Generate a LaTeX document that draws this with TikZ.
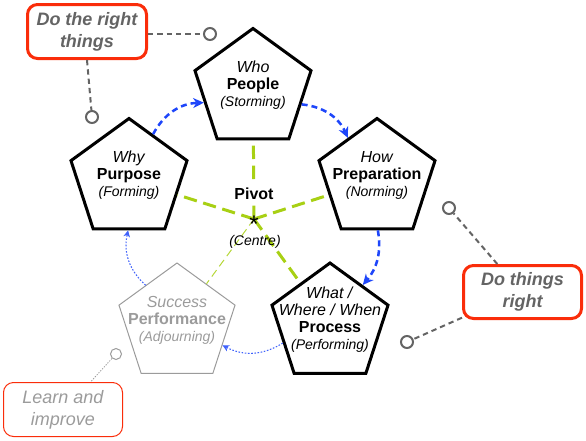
\documentclass[tikz,border=0pt]{standalone}
\usepackage{fontspec}
\setmainfont{Liberation Sans}
\usetikzlibrary{shapes.geometric,arrows.meta}

\definecolor{flowblue}{RGB}{30,70,250}
\definecolor{spokegreen}{RGB}{168,208,20}
\definecolor{calloutred}{RGB}{250,45,10}
\definecolor{notegray}{RGB}{100,100,100}
\definecolor{fadedgray}{RGB}{155,155,155}

\newcommand{\stagesub}[1]{{\fontsize{10.5}{12.75}\selectfont\itshape #1}}

\begin{document}
\begin{tikzpicture}[x=0.75pt, y=-0.75pt,
    stage/.style={draw=black, line width=2.25pt, regular polygon,
      regular polygon sides=5, minimum size=91.5pt, inner sep=0pt},
    faded/.style={draw=fadedgray, line width=0.75pt},
    stagetext/.style={align=center, inner sep=0pt,
      font=\fontsize{12}{12.75}\selectfont},
    spoke/.style={draw=spokegreen, line width=2.25pt,
      dash pattern=on 10pt off 5pt},
    flow/.style={draw=flowblue, line width=1.9pt, dash pattern=on 4.5pt off 3pt,
      -{Stealth[length=8pt, width=7.5pt, inset=2.5pt]}},
    slowflow/.style={draw=flowblue!85, line width=0.8pt, dash pattern=on 1.2pt off 1.2pt,
      -{Stealth[length=5pt, width=5pt, inset=1.5pt]}},
    callout/.style={draw=calloutred, line width=2.25pt, rounded corners=7.5pt,
      align=center, inner sep=0pt, text=notegray,
      font=\fontsize{13.5}{16.5}\selectfont\bfseries\itshape},
    ring/.style={circle, draw=notegray, line width=1.5pt,
      minimum size=9pt, inner sep=0pt},
    lead/.style={draw=notegray, line width=1.5pt, dash pattern=on 4pt off 3pt}
  ]
  \useasboundingbox (0,0) rectangle (586,440);

  % Stages
  \node[stage] (who) at (253,89.5) {};
  \node[stage] (how) at (377,179.5) {};
  \node[stage] (why) at (129,179.5) {};
  \node[stage] (what) at (330,324) {};
  \node[stage, faded] (success) at (177,324) {};

  \node[stagetext] (whotext) at ([yshift=3pt]who.center)
    {\textit{Who}\\\textbf{People}\\\stagesub{(Storming)}};
  \node[stagetext] (howtext) at ([yshift=3pt]how.center)
    {\textit{How}\\\textbf{Preparation}\\\stagesub{(Norming)}};
  \node[stagetext] (whytext) at ([yshift=3pt]why.center)
    {\textit{Why}\\\textbf{Purpose}\\\stagesub{(Forming)}};
  \node[stagetext] (whattext) at ([yshift=3pt]what.center)
    {\textit{What /}\\\textit{Where / When}\\\textbf{Process}\\\stagesub{(Performing)}};
  \node[stagetext, text=fadedgray] (successtext) at ([yshift=3pt]success.center)
    {\textit{Success}\\\textbf{Performance}\\\stagesub{(Adjourning)}};

  % Pivot
  \coordinate (pivot) at (254,219);
  \draw[spoke] (pivot) -- (who);
  \draw[spoke] (pivot) -- (how);
  \draw[spoke] (pivot) -- (why);
  \draw[spoke] (pivot) -- (what);
  \draw[spoke, line width=0.75pt, draw=spokegreen!85, dash pattern=on 6pt off 3.5pt]
    (pivot) -- (success);

  \node[inner sep=0pt, font=\fontsize{18}{18}\selectfont] (star) at (pivot)
    {\raisebox{-10.3pt}[3pt][3pt]{*}};
  \node[stagetext, fill=white, inner sep=2pt,
    font=\fontsize{12}{12}\selectfont\bfseries] (pivotlabel)
    at (254,194) {Pivot};
  \node[stagetext, font=\fontsize{10.5}{10.5}\selectfont\itshape] (centrelabel)
    at (255,242) {(Centre)};

  % Arcs
  \draw[flow] (why.62) to[bend left=30] (who.195);
  \draw[flow] (who.-17) to[bend left=30] (how.125);
  \draw[flow] (how.-89) to[bend left=25] (what.50);
  \draw[slowflow] (what.202) to[bend left=30] (success.-25);
  \draw[slowflow] (success.129) to[bend left=30] (why.-91);

  % Callouts
  \node[callout, minimum width=89.25pt, minimum height=40.5pt]
    (rightthings) at (87,31.5) {Do the right\\things};
  \node[ring] (topring) at (210,34) {};
  \node[ring] (leftring) at (92,117) {};
  \draw[lead] (rightthings.east |- topring) -- (topring);
  \draw[lead] (rightthings.south) -- (leftring);

  \node[callout, minimum width=88.5pt, minimum height=39.75pt]
    (thingsright) at (522.5,292) {Do things\\right};
  \node[ring] (upperring) at (449,208) {};
  \node[ring] (lowerring) at (407,342) {};
  \draw[lead] (thingsright.132) -- (upperring);
  \draw[lead] (thingsright.203) -- (lowerring);

  \node[callout, line width=0.75pt, text=fadedgray,
    font=\fontsize{13.5}{16.5}\selectfont\itshape,
    minimum width=89.25pt, minimum height=40.5pt]
    (learn) at (63,409.5) {Learn and\\improve};
  \node[ring, draw=fadedgray, line width=0.75pt, minimum size=8.25pt]
    (learnring) at (116,354) {};
  \draw[draw=fadedgray, line width=0.6pt, dash pattern=on 1pt off 1pt]
    (learnring) -- (learn.45);
\end{tikzpicture}
\end{document}
